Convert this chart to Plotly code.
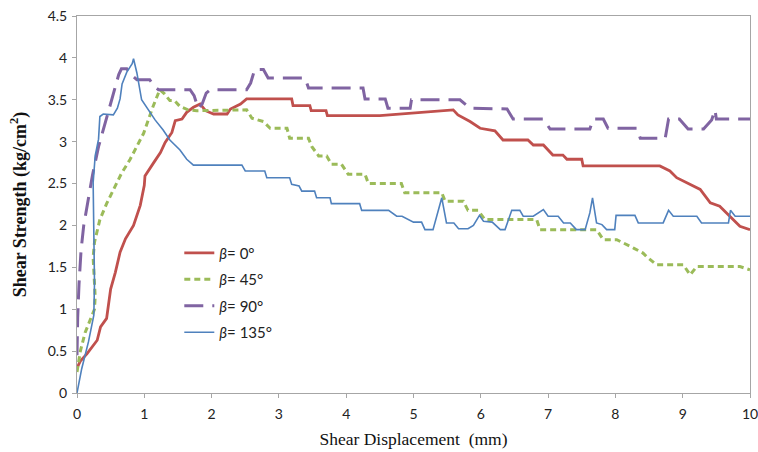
import plotly.graph_objects as go

# β = 0°
x0 = [0, 0.05, 0.15, 0.30, 0.35, 0.44, 0.50, 0.57, 0.64, 0.72, 0.84, 0.94, 1.00, 1.01, 1.14, 1.24, 1.31, 1.41,
      1.46, 1.56, 1.63, 1.73, 1.83, 1.91, 2.03, 2.23, 2.28, 2.43, 2.52, 2.72, 3.19, 3.21, 3.46, 3.48, 3.70, 3.72,
      4.50, 5.59, 5.66, 5.84, 5.99, 6.21, 6.33, 6.70, 6.78, 6.93, 7.00, 7.07, 7.22, 7.28, 7.50, 7.52, 8.66, 8.81,
      8.91, 9.06, 9.26, 9.41, 9.55, 9.70, 9.85, 10.0]
y0 = [0.30, 0.38, 0.47, 0.63, 0.79, 0.89, 1.24, 1.44, 1.68, 1.84, 2.00, 2.24, 2.48, 2.59, 2.75, 2.87, 2.99, 3.11,
      3.25, 3.27, 3.35, 3.41, 3.45, 3.37, 3.33, 3.33, 3.39, 3.45, 3.51, 3.51, 3.51, 3.43, 3.43, 3.37, 3.37, 3.31,
      3.31, 3.38, 3.32, 3.24, 3.16, 3.13, 3.02, 3.02, 2.96, 2.96, 2.90, 2.84, 2.84, 2.79, 2.79, 2.71, 2.71, 2.65,
      2.57, 2.51, 2.43, 2.27, 2.23, 2.11, 1.99, 1.95]

# β = 45°
x45 = [0, 0.05, 0.12, 0.20, 0.26, 0.27, 0.25, 0.24, 0.26, 0.30, 0.34, 0.44, 0.54, 0.66, 0.79, 0.99, 1.13, 1.23,
       1.30, 1.38, 1.45, 1.53, 1.65, 1.78, 2.52, 2.60, 2.77, 2.87, 3.12, 3.16, 3.44, 3.49, 3.59, 3.71, 3.78, 3.93,
       4.03, 4.28, 4.33, 4.82, 4.87, 5.42, 5.47, 5.74, 5.81, 5.96, 6.06, 6.83, 6.88, 7.72, 7.82, 8.02, 8.27, 8.41,
       8.46, 8.61, 9.01, 9.11, 9.21, 9.85, 10.0]
y45 = [0.25, 0.50, 0.72, 0.88, 1.00, 1.15, 1.40, 1.62, 1.80, 1.95, 2.07, 2.26, 2.43, 2.62, 2.79, 3.10, 3.42, 3.62,
       3.57, 3.49, 3.49, 3.42, 3.38, 3.37, 3.38, 3.28, 3.24, 3.16, 3.16, 3.04, 3.04, 2.94, 2.83, 2.83, 2.73, 2.73,
       2.61, 2.61, 2.50, 2.50, 2.39, 2.39, 2.29, 2.29, 2.18, 2.18, 2.07, 2.07, 1.95, 1.95, 1.83, 1.83, 1.73, 1.67,
       1.63, 1.53, 1.53, 1.41, 1.51, 1.51, 1.47]

# β = 90°
x90 = [0, 0.01, 0.03, 0.06, 0.10, 0.16, 0.23, 0.32, 0.39, 0.49, 0.56, 0.62, 0.66, 0.74, 0.80, 0.89, 1.08, 1.15,
       1.21, 1.68, 1.74, 1.80, 1.86, 1.92, 1.98, 2.52, 2.58, 2.64, 2.77, 2.84, 3.39, 3.44, 4.25, 4.28, 4.58, 4.62,
       4.95, 4.97, 5.69, 5.78, 5.84, 6.39, 6.48, 6.93, 7.03, 7.62, 7.67, 7.82, 7.89, 8.32, 8.37, 8.74, 8.79, 8.95,
       9.08, 9.31, 9.43, 9.48, 9.50, 10.0]
y90 = [0.45, 0.90, 1.30, 1.70, 2.00, 2.30, 2.60, 2.94, 3.14, 3.42, 3.62, 3.80, 3.87, 3.87, 3.80, 3.74, 3.74, 3.66,
       3.62, 3.62, 3.55, 3.40, 3.45, 3.58, 3.62, 3.62, 3.70, 3.86, 3.86, 3.76, 3.76, 3.64, 3.64, 3.51, 3.51, 3.40,
       3.40, 3.50, 3.50, 3.44, 3.40, 3.39, 3.27, 3.27, 3.15, 3.15, 3.27, 3.27, 3.16, 3.16, 3.04, 3.04, 3.27, 3.27,
       3.15, 3.15, 3.26, 3.38, 3.27, 3.27]

# β = 135°
x135 = [0, 0.07, 0.17, 0.25, 0.26, 0.25, 0.24, 0.27, 0.32, 0.34, 0.39, 0.54, 0.60, 0.64, 0.67, 0.74, 0.82, 0.84,
        0.89, 0.96, 1.04, 1.16, 1.28, 1.38, 1.53, 1.63, 1.73, 2.45, 2.50, 2.79, 2.82, 3.16, 3.19, 3.30, 3.34, 3.53,
        3.56, 3.76, 3.78, 4.20, 4.23, 4.63, 4.75, 4.83, 5.00, 5.12, 5.17, 5.29, 5.42, 5.49, 5.60, 5.67, 5.81, 5.89,
        5.98, 6.04, 6.17, 6.29, 6.36, 6.46, 6.58, 6.63, 6.78, 6.93, 7.00, 7.15, 7.23, 7.33, 7.42, 7.55, 7.62, 7.66,
        7.72, 7.80, 7.87, 7.99, 8.01, 8.29, 8.34, 8.71, 8.79, 8.86, 9.21, 9.28, 9.68, 9.71, 9.78, 10.0]
y135 = [0, 0.29, 0.61, 0.93, 1.32, 1.92, 2.51, 2.83, 3.03, 3.30, 3.33, 3.32, 3.40, 3.51, 3.69, 3.83, 3.93, 3.99,
        3.82, 3.50, 3.40, 3.26, 3.14, 3.02, 2.90, 2.79, 2.72, 2.72, 2.65, 2.65, 2.57, 2.57, 2.49, 2.47, 2.41, 2.41,
        2.33, 2.33, 2.26, 2.26, 2.18, 2.18, 2.11, 2.11, 2.04, 2.04, 1.95, 1.95, 2.33, 2.03, 2.03, 1.96, 1.96, 2.00,
        2.12, 2.05, 2.04, 1.95, 1.95, 2.18, 2.18, 2.11, 2.11, 2.19, 2.11, 2.11, 2.03, 2.03, 1.95, 1.95, 2.15, 2.33,
        2.03, 2.01, 1.95, 1.95, 2.12, 2.12, 2.03, 2.03, 2.18, 2.11, 2.11, 2.03, 2.03, 2.18, 2.11, 2.11]

names = ["<i>β</i>= 0°", "<i>β</i>= 45°", "<i>β</i>= 90°", "<i>β</i>= 135°"]
colors = ["#C0504D", "#9BBB59", "#8064A2", "#4F81BD"]
widths = [2.8, 3, 3, 1.6]
dashes = ["solid", "6px,4px", "19px,9px", "solid"]
series = [(x0, y0), (x45, y45), (x90, y90), (x135, y135)]

fig = go.Figure()
for i, (xs, ys) in enumerate(series):
    fig.add_trace(go.Scatter(x=xs, y=ys, mode="lines", name=names[i], legendgroup=str(i),
                             line=dict(color=colors[i], width=widths[i], dash=dashes[i])))

axis_common = dict(showline=True, linecolor="#A6A6A6", linewidth=1, mirror=True, showgrid=False,
                   zeroline=False, ticks="outside", ticklen=4, tickcolor="#A6A6A6", automargin=False,
                   ticklabeloverflow="allow",
                   tickfont=dict(family="Lato", size=14, color="#222"))

fig.update_layout(
    width=758, height=452,
    margin=dict(l=77, r=8, t=16, b=59),
    paper_bgcolor="white", plot_bgcolor="white",
    xaxis=dict(range=[0, 10], dtick=1, ticklabelstandoff=4, **axis_common,
               title=dict(text="Shear Displacement  (mm)", standoff=11,
                          font=dict(family="Liberation Serif", size=17.5, color="#111"))),
    yaxis=dict(range=[0, 4.5], dtick=0.5, ticklabelstandoff=2, **axis_common,
               title=dict(text="<b>Shear Strength (kg/cm<sup>2</sup>)</b>", standoff=16,
                          font=dict(family="Liberation Serif", size=18, color="#111"))),
    legend=dict(x=0.152, y=0.415, xanchor="left", yanchor="top", bgcolor="rgba(0,0,0,0)",
                tracegroupgap=4, font=dict(family="Lato", size=15, color="#222")),
    showlegend=True,
)

# remove the page's default body margin so the 758x452 figure fills the window exactly
fig.write_html("out.html", config={"displayModeBar": False},
               post_script="document.body.style.margin='0px';document.body.style.overflow='hidden';")
